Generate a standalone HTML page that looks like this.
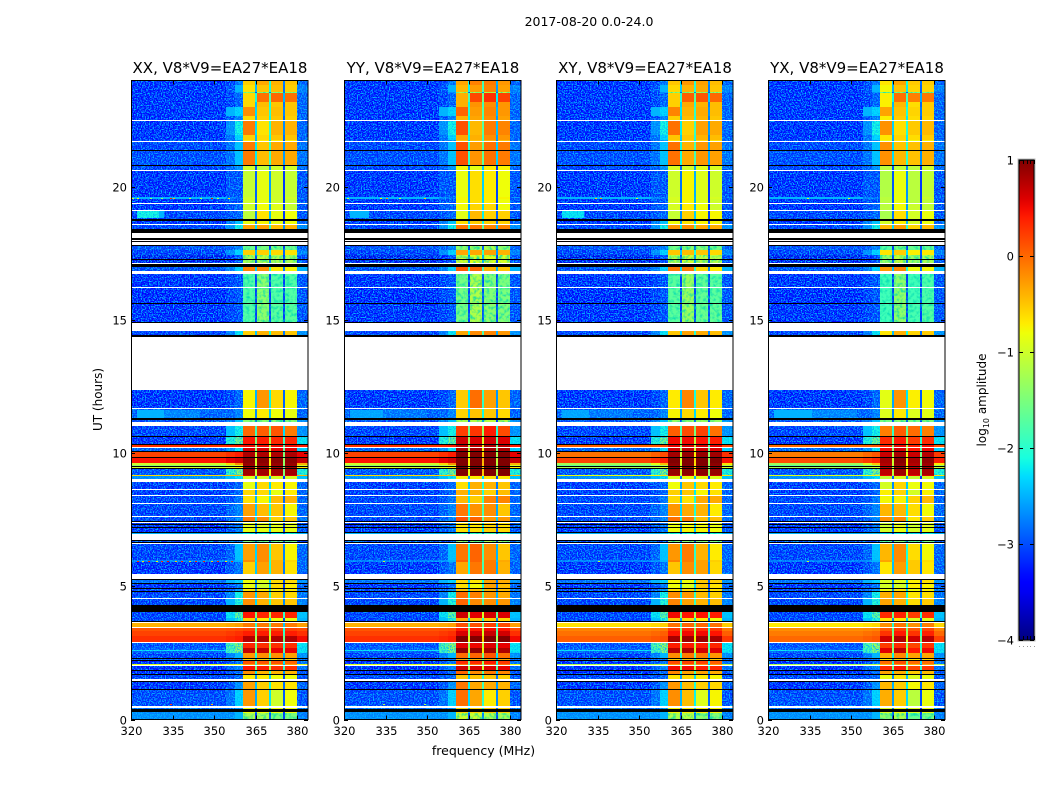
<!DOCTYPE html>
<html lang="en">
<head>
<meta charset="utf-8">
<title>2017-08-20 dynamic spectra</title>
<style>
html,body{margin:0;padding:0;background:#fff;width:1050px;height:800px;overflow:hidden}
svg{display:block}
text{font-family:"DejaVu Sans","Liberation Sans",sans-serif;fill:#000}
</style>
</head>
<body>
<svg id="chart" xmlns="http://www.w3.org/2000/svg" width="1050" height="800" viewBox="0 0 1050 800">
<defs>
<filter id="speckle-0" x="0" y="0" width="1" height="1" color-interpolation-filters="sRGB"><feTurbulence type="fractalNoise" baseFrequency="0.75" numOctaves="2" seed="3"/><feColorMatrix type="matrix" values="0 0 0 0 0  0 0 0 0 0.72  0 0 0 0 1  5 0 0 0 -2.3"/></filter>
<filter id="speckle-1" x="0" y="0" width="1" height="1" color-interpolation-filters="sRGB"><feTurbulence type="fractalNoise" baseFrequency="0.75" numOctaves="2" seed="11"/><feColorMatrix type="matrix" values="0 0 0 0 0  0 0 0 0 0.72  0 0 0 0 1  5 0 0 0 -2.3"/></filter>
<filter id="speckle-2" x="0" y="0" width="1" height="1" color-interpolation-filters="sRGB"><feTurbulence type="fractalNoise" baseFrequency="0.75" numOctaves="2" seed="23"/><feColorMatrix type="matrix" values="0 0 0 0 0  0 0 0 0 0.72  0 0 0 0 1  5 0 0 0 -2.3"/></filter>
<filter id="speckle-3" x="0" y="0" width="1" height="1" color-interpolation-filters="sRGB"><feTurbulence type="fractalNoise" baseFrequency="0.75" numOctaves="2" seed="37"/><feColorMatrix type="matrix" values="0 0 0 0 0  0 0 0 0 0.72  0 0 0 0 1  5 0 0 0 -2.3"/></filter>
<filter id="mottle" x="0" y="0" width="1" height="1" color-interpolation-filters="sRGB"><feTurbulence type="fractalNoise" baseFrequency="0.3" numOctaves="2" seed="5"/><feColorMatrix type="matrix" values="0 0 0 0 0  0 0 0 0 0.85  0 0 0 0 0.7  2.2 0 0 0 -0.95"/></filter>
</defs>
<text x="589" y="26" font-size="12.5" text-anchor="middle">2017-08-20 0.0-24.0</text>
<text x="483.5" y="755" font-size="12.5" text-anchor="middle">frequency (MHz)</text>
<text transform="translate(102,399.5) rotate(-90)" font-size="12" text-anchor="middle">UT (hours)</text>
<text transform="translate(986,400) rotate(-90)" font-size="12" text-anchor="middle">log<tspan font-size="8" dy="3">10</tspan><tspan dy="-3"> amplitude</tspan></text>
</svg>
<script>
/* log10 amplitude per time band. W = flagged (white), K = zero amplitude (black). */
const W = null, K = -9;
const panelTitles = ['XX, V8*V9=EA27*EA18', 'YY, V8*V9=EA27*EA18', 'XY, V8*V9=EA27*EA18', 'YX, V8*V9=EA27*EA18'];
const xTickValues = [320, 335, 350, 365, 380];
const yTickValues = [0, 5, 10, 15, 20];
const colorTickValues = [1, 0, -1, -2, -3, -4];
/* Frequency edges in MHz: background, shoulder 1, shoulder 2, block, gap, block, gap, block, gap, block, right wing */
const freqEdges = [320, 354.5, 357.5, 360.6, 364.8, 365.5, 369.9, 370.6, 375, 375.6, 380, 384];
/* Amplitude drop of the three gaps relative to the mean of the four blocks */
const gapDepth = [-1.9, -1.6, -2.3];
/* Per-panel amplitude offsets for the four blocks */
const blockOffsets = [[0, 0, 0, 0], [0.22, 0.22, 0.3, 0.25], [0.05, 0.1, 0.1, 0.05], [-0.12, 0.02, -0.12, -0.03]];
/* Per-panel offsets for strong wide-band rows */
const hotRowOffsets = [0, 0, -0.25, -0.3];
/* Offset applied to the quiet noise floor */
const quietFloorOffset = -0.14;
/* [upper UT, background, shoulder1, shoulder2, block1, block2, block3, block4, right wing]; each row runs down to the next */
const timeRows = [
[24.02,-3.2,-3.1,-2.8,-.55,-.35,-.4,-.5,-2.9],
[23.83,-3.2,-3,-2.5,-.65,-.5,-.45,-.55,-2.7],
[23.57,-3.2,-3,-2.6,-1.4,-1.4,-1.4,-1.4,-2.8],
[23.53,-3.2,-3.1,-2.9,-.6,-.05,0,-.05,-2.9],
[23.19,-3.2,-3.1,-2.9,-.6,-.45,-.5,-.5,-2.9],
[23,-3.2,-2.5,-2.3,-.2,-.5,-.45,-.5,-2.9],
[22.67,-3.2,-3,-2.7,-.6,-.55,-.5,-.55,-2.9],
[22.52,W],
[22.48,-3.2,-2.6,-2.1,-.1,-.65,-.4,-.4,-2.9],
[21.95,-3.2,-2.8,-2.3,-.55,-.6,-.5,-.5,-2.9],
[21.78,W],
[21.75,-3.1,-2.8,-2.6,-.7,-.7,-.7,-.7,-2.9],
[21.73,W],
[21.69,-3.1,-2.8,-2.4,-.1,-.5,-.35,-.35,-2.8],
[21.39,K],
[21.35,-3.05,-2.8,-2.4,-.1,-.45,-.35,-.35,-2.8],
[20.83,K],
[20.77,-3.1,-2.9,-2.6,-1,-1.1,-1,-1,-2.9],
[20.64,W],
[20.6,-3.2,-3,-3,-1.05,-.85,-1,-1.05,-3],
[19.61,-2.5,-2.7,-2.8,-1,-.85,-1,-1,-2.9],
[19.55,-3.2,-3,-3,-1,-.85,-1,-1.05,-3],
[19.4,W],
[19.36,-3.2,-3,-2.9,-1,-.8,-.9,-1.05,-3],
[19.14,W],
[19.1,-3.1,-3,-2.9,-1.1,-.65,-.85,-.8,-3],
[18.78,K],
[18.74,-3.2,-2.7,-2.4,-.85,-.75,-.85,-.8,-2.9],
[18.61,W],
[18.57,-3.1,-2.6,-2.1,-.3,-.3,-.45,-.4,-2.6],
[18.42,K],
[18.27,W],
[18.08,K],
[18.01,W],
[17.97,K],
[17.93,W],
[17.82,K],
[17.78,-3,-2.9,-2.7,-1.6,-1.5,-1.5,-1.6,-2.9],
[17.65,K],
[17.62,-3.1,-2.6,-2.3,-.55,-.55,-.6,-.65,-2.7],
[17.46,K],
[17.43,-3.4,-3.2,-3,-1.2,-1.1,-1.2,-1.2,-3],
[17.28,K],
[17.24,-3.4,-3.2,-3,-1.2,-1.1,-1.2,-1.2,-3],
[17.15,W],
[17.11,K],
[17,-3,-2.7,-2.3,-.15,-.2,-.7,-.75,-2.5],
[16.85,W],
[16.75,-3.2,-3.1,-3,-1.75,-1.4,-1.75,-1.75,-3],
[16.24,W],
[16.21,-3.3,-3.1,-3,-1.75,-1.4,-1.75,-1.75,-3],
[15.66,K],
[15.62,W],
[15.59,-3.2,-3.1,-3,-1.75,-1.4,-1.7,-1.7,-3],
[14.93,K],
[14.89,W],
[14.61,-3.1,-2.7,-2.2,-.55,-.4,-.45,-.5,-2.6],
[14.44,K],
[14.38,W],
[12.38,-3.2,-3.1,-2.9,-.75,-.25,-.6,-.75,-2.9],
[11.7,W],
[11.66,-2.9,-2.9,-2.7,-.8,-.7,-.8,-.85,-2.9],
[11.31,K],
[11.24,-3,-2.7,-2.4,-1.4,-1.4,-1.4,-1.4,-2.6],
[11.18,W],
[11.02,-3.1,-2.4,-2.1,0,.05,.1,-.1,-2.6],
[10.65,K],
[10.61,-3.2,-2,-1.5,.45,.4,.35,.35,-2.2],
[10.35,K],
[10.31,.3,.35,.4,.5,.5,.5,.5,.4],
[10.25,W],
[10.21,-2.9,-2.6,-2.2,.6,.6,.55,.55,-2.3],
[10.08,K],
[10.05,.2,.3,.4,.8,.8,.8,.8,.55],
[9.86,K],
[9.82,.45,.55,.65,.95,.95,.95,.95,.7],
[9.62,-1,-.6,-.2,.9,.9,.9,.9,-.4],
[9.56,-1.4,-1.2,-1,.85,.85,.85,.85,-1],
[9.52,K],
[9.48,-1,-.9,-.7,.85,.85,.85,.85,-.7],
[9.45,K],
[9.41,-3,-1.9,-1.4,.85,.85,.85,.85,-2],
[9.19,-.6,-.5,-.4,.65,.65,.65,.65,-.4],
[9.15,-2.6,-2.4,-2.2,-.95,-.95,-.95,-.95,-2.4],
[9.03,W],
[8.93,-3.15,-3.05,-2.9,-.85,-.6,-.7,-.75,-2.9],
[8.67,W],
[8.63,-3.15,-3.05,-2.9,-.6,-.6,-.85,-.7,-2.9],
[8.43,W],
[8.41,-3.1,-3,-2.8,-.65,-.75,-.45,-.4,-2.9],
[8.13,W],
[8.09,-3.1,-2.9,-2.7,-.3,-.45,-.5,-.75,-2.9],
[7.64,W],
[7.61,-3.1,-2.9,-2.7,-.1,-.2,-.55,-.5,-2.8],
[7.47,K],
[7.42,W],
[7.38,-3.2,-3,-2.8,-.9,-.9,-.9,-.9,-3],
[7.33,K],
[7.29,-3.2,-3,-2.8,-.9,-.9,-.9,-.9,-3],
[7.23,K],
[7.19,-3.2,-3,-2.8,-.85,-.85,-.85,-.85,-3],
[7.04,K],
[6.99,-2.5,-2.5,-2.4,-2.2,-2.2,-2.2,-2.2,-2.5],
[6.95,W],
[6.76,K],
[6.7,-3,-3,-3,-1.5,-1.5,-1.5,-1.5,-3],
[6.68,K],
[6.63,W],
[6.58,-3.1,-2.9,-2.4,-.3,-.2,-.5,-.75,-2.9],
[5.99,-2.7,-2.6,-2.5,-.2,-.2,-.4,-.6,-2.8],
[5.93,W],
[5.9,-3.2,-3,-2.8,-.55,-.3,-.4,-.65,-2.9],
[5.46,W],
[5.28,K],
[5.24,-2.8,-2.5,-2.3,-.8,-.9,-.6,-.6,-2.6],
[5.12,K],
[5.09,-3.2,-3,-2.8,-.85,-1,-.6,-.7,-2.9],
[4.95,K],
[4.91,-3.1,-2.9,-2.6,-.7,-.7,-.7,-.7,-2.8],
[4.82,K],
[4.79,-3.1,-2.7,-2.1,-.25,-.35,-.55,-.6,-2.8],
[4.56,W],
[4.53,-3.1,-2.5,-2,-.2,-.4,-.5,-.5,-2.7],
[4.3,K],
[4.05,-3.1,-2.2,-1.6,.45,.35,.35,.35,-2.4],
[3.81,-3.1,-2.4,-2,-.55,-.7,-.8,-.85,-2.5],
[3.7,K],
[3.66,W],
[3.62,-.4,-.35,-.3,-.1,-.1,-.1,-.1,-.3],
[3.47,W],
[3.44,.1,.12,.15,.2,.2,.2,.2,.15],
[3.32,.2,.25,.3,.4,.4,.4,.4,.3],
[3.14,.3,.35,.4,.78,.78,.78,.78,.5],
[2.92,W],
[2.88,-3,-1.7,-1.3,.35,.3,.3,.3,-2.2],
[2.67,-2.9,-1.8,-1.4,.7,.7,.55,.55,-2.2],
[2.61,-2.2,-1.8,-1.4,.7,.7,.55,.55,-2.2],
[2.57,-2.9,-1.8,-1.4,.7,.7,.55,.55,-2.2],
[2.49,-3.1,-2.7,-2.5,-.25,-.2,-.2,-.3,-2.6],
[2.3,K],
[2.26,-3,-2.9,-2.8,-.6,-.6,-.6,-.6,-2.9],
[2.23,K],
[2.21,-3.2,-3,-2.8,.1,.1,.1,0,-2.8],
[2.08,-.9,-.9,-.85,-.3,-.3,-.3,-.3,-.9],
[2.05,W],
[2.01,-3.2,-2.9,-2.7,.45,.4,.3,.3,-2.8],
[1.86,K],
[1.82,-3.3,-3.1,-2.9,-.2,-.4,-.4,-.4,-3],
[1.7,K],
[1.67,-3.1,-3,-2.9,-.7,-.7,-.8,-.8,-3],
[1.52,W],
[1.45,K],
[1.39,-3.2,-3,-2.6,-.3,-.55,-.65,-.65,-2.9],
[1.13,K],
[1.09,-3.05,-2.8,-2.3,-.25,-.55,-1,-.8,-3],
[.49,W],
[.44,-2.8,-2.8,-2.6,-.8,-.8,-.8,-.8,-2.8],
[.39,K],
[.29,-2.6,-2.6,-2.5,-.8,-.8,-.8,-.8,-2.7],
[.26,K],
[.23,-2.6,-2.6,-2.5,-1.25,-1.25,-1.5,-1.5,-2.7],
[.02,W]
];
/* Broad emission patches: [panel, UT top, UT bottom, freq start, freq end, amplitude] */
const emissionPatches = [
[0,19.08,18.82,322,330,-2.1],[0,19.08,18.82,330,332,-2.5],
[1,19.08,18.82,322,329,-2.5],[2,19.08,18.82,322,330,-2.2],
[0,11.62,11.33,322,332,-2.5],[0,11.62,11.33,332,345,-2.8],
[1,11.62,11.33,322,334,-2.6],[1,11.62,11.33,334,350,-2.9],
[2,11.62,11.33,322,332,-2.6],[2,11.62,11.33,332,348,-2.9],
[3,11.62,11.33,322,336,-2.5],[3,11.62,11.33,336,352,-2.8]
];
/* Narrow interference pixels: [panel, UT, freq, amplitude] */
const hotPixels = [
[0,19.59,320.5,-1],[0,19.59,322,-.8],[0,19.59,327,-1.4],[0,19.59,331,-1.4],[0,19.59,334,.4],[0,19.59,335,-.4],[0,19.59,341,-1],[0,19.59,345,-1.2],[0,19.59,349,.5],[0,19.59,351,-1.2],[0,19.59,355,-.6],
[1,19.59,321,-1],[1,19.59,333,-.7],[1,19.59,335,-.2],[1,19.59,340,-1],[1,19.59,349,-.5],
[2,19.59,334,-.5],[2,19.59,336,-.3],[2,19.59,349,-1],[3,19.59,334,-1],[3,19.59,349,-1],
[0,5.96,322,.3],[0,5.96,324,-.6],[0,5.96,326,.4],[0,5.96,329,-.8],[0,5.96,331,.4],[0,5.96,333,.5],[0,5.96,336,-.5],[0,5.96,338,.4],[0,5.96,341,-.6],[0,5.96,343,.3],[0,5.96,346,.4],[0,5.96,349,-.5],[0,5.96,351,.4],[0,5.96,354,-.7],[0,5.96,356,.3],
[1,5.96,334,-1],[2,5.96,335,-1],[3,5.96,334,-1],
[0,.58,334,.2],[0,.58,349,-.4],[1,.58,334,-1.2],[1,.58,349,-1.2]
];

const svgNS = 'http://www.w3.org/2000/svg';
const svg = document.getElementById('chart');
const PANEL_W = 177, PANEL_TOP = 80.5, PANEL_BOTTOM = 719.5;

function panelLeft(i) { return Math.round(131.4 + 212.3 * i); }
function xScale(i, f) { return Math.round(panelLeft(i) + (f - 320) * 2.767); }
function yScale(ut) { return Math.round(PANEL_BOTTOM - ut * 26.625); }
function lerp(pts, t) {
  for (let k = 1; k < pts.length; k++) {
    if (t <= pts[k][0]) {
      const a = pts[k - 1], b = pts[k];
      return a[1] + (b[1] - a[1]) * (t - a[0]) / (b[0] - a[0]);
    }
  }
  return pts[pts.length - 1][1];
}
function jet(v) {
  const t = Math.max(0, Math.min(1, (v + 4) / 5));
  const r = lerp([[0, 0], [.35, 0], [.66, 1], [.89, 1], [1, .5]], t);
  const g = lerp([[0, 0], [.125, 0], [.375, 1], [.64, 1], [.91, 0], [1, 0]], t);
  const b = lerp([[0, .5], [.11, 1], [.34, 1], [.65, 0], [1, 0]], t);
  return 'rgb(' + Math.round(r * 255) + ',' + Math.round(g * 255) + ',' + Math.round(b * 255) + ')';
}
function shape(tag, parent, attrs) {
  const el = document.createElementNS(svgNS, tag);
  for (const k in attrs) el.setAttribute(k, attrs[k]);
  parent.appendChild(el);
  return el;
}
function cell(parent, x0, x1, y0, y1, fill) {
  const el = shape('rect', parent, { x: x0, y: y0, width: x1 - x0, height: y1 - y0, fill: fill, 'shape-rendering': 'crispEdges' });
  
  
  return el;
}
function label(parent, x, y, str, anchor, size) {
  const el = shape('text', parent, { x: x, y: y, 'text-anchor': anchor, 'font-size': size });
  el.textContent = str;
  
  
  return el;
}
function tick(parent, x1, y1, x2, y2) {
  const el = shape('line', parent, { x1: x1, y1: y1, x2: x2, y2: y2, stroke: '#000', 'stroke-width': 1, 'shape-rendering': 'crispEdges' });
  
  
  return el;
}
function quiet(v) { return v < -2.5 ? v + quietFloorOffset : v; }
function rowColumns(row, p) {
  const blocks = [row[4], row[5], row[6], row[7]].map(function (v, k) { return v + blockOffsets[p][k]; });
  const mean = (blocks[0] + blocks[1] + blocks[2] + blocks[3]) / 4;
  const hot = row[1] > -1.5 ? hotRowOffsets[p] : 0;
  const gap = function (k) { return Math.max(-3.1, mean + gapDepth[k]); };
  return [quiet(row[1]) + hot, quiet(row[2]) + hot, quiet(row[3]) + hot, blocks[0], gap(0), blocks[1], gap(1), blocks[2], gap(2), blocks[3], quiet(row[8]) + hot];
}

panelTitles.forEach(function (title, p) {
  const left = panelLeft(p);
  const panel = shape('g', svg, {});
  
  

  const cells = shape('g', panel, {});
  
  
  const clip = shape('clipPath', panel, { id: 'quiet-rows-' + p });
  const clipBlocks = shape('clipPath', panel, { id: 'faint-rows-' + p });

  timeRows.forEach(function (row, r) {
    if (row.length === 2) return;
    const y0 = yScale(row[0]);
    const y1 = yScale(r + 1 < timeRows.length ? timeRows[r + 1][0] : 0);
    if (y1 <= y0) return;
    rowColumns(row, p).forEach(function (v, c) {
      cell(cells, xScale(p, freqEdges[c]), xScale(p, freqEdges[c + 1]), y0, y1, jet(v));
    });
    if (row[1] < -2) {
      shape('rect', clip, { x: xScale(p, 320), y: y0, width: xScale(p, 360.6) - xScale(p, 320), height: y1 - y0 });
      shape('rect', clip, { x: xScale(p, 380), y: y0, width: xScale(p, 384) - xScale(p, 380), height: y1 - y0 });
    }
    if (row[4] < -1.1) {
      shape('rect', clipBlocks, { x: xScale(p, 360.6), y: y0, width: xScale(p, 380) - xScale(p, 360.6), height: y1 - y0 });
    }
  });

  emissionPatches.filter(function (e) { return e[0] === p; }).forEach(function (e) {
    cell(cells, xScale(p, e[3]), xScale(p, e[4]), yScale(e[1]), yScale(e[2]), jet(e[5]));
  });

  const noiseWrap = shape('g', panel, { 'clip-path': 'url(#quiet-rows-' + p + ')' });
  
  
  shape('rect', noiseWrap, { x: left, y: 80, width: PANEL_W, height: 640, filter: 'url(#speckle-' + p + ')' });

  const mottleWrap = shape('g', panel, { 'clip-path': 'url(#faint-rows-' + p + ')' });
  
  
  shape('rect', mottleWrap, { x: left, y: 80, width: PANEL_W, height: 640, filter: 'url(#mottle)' });

  hotPixels.filter(function (h) { return h[0] === p; }).forEach(function (h) {
    const y0 = yScale(h[1]);
    cell(panel, xScale(p, h[2]), xScale(p, h[2]) + 2, y0, y0 + 1, jet(h[3]));
  });

  timeRows.forEach(function (row, r) {
    if (row.length !== 2) return;
    const y0 = yScale(row[0]);
    const y1 = yScale(r + 1 < timeRows.length ? timeRows[r + 1][0] : 0);
    if (y1 <= y0) return;
    cell(panel, left, left + PANEL_W, y0, y1, row[1] === null ? '#fff' : '#000');
  });

  const frame = shape('rect', panel, { x: left + .5, y: PANEL_TOP, width: PANEL_W - .5, height: PANEL_BOTTOM - PANEL_TOP, fill: 'none', stroke: '#000', 'stroke-width': 1 });
  
  

  xTickValues.forEach(function (f) {
    const x = xScale(p, f) + .5;
    tick(panel, x, PANEL_BOTTOM, x, PANEL_BOTTOM - 4);
    tick(panel, x, PANEL_TOP, x, PANEL_TOP + 4);
    label(panel, x, 735, String(f), 'middle', 11.5);
  });
  yTickValues.forEach(function (ut) {
    const y = yScale(ut) + .5;
    tick(panel, left, y, left + 4, y);
    tick(panel, left + PANEL_W, y, left + PANEL_W - 4, y);
    label(panel, left - 4, y + 4, String(ut), 'end', 11.5);
  });

  const t = shape('text', panel, { x: left + 89, y: 73, 'text-anchor': 'middle', 'font-size': 15 });
  t.textContent = title;
  
  
});

/* Colour bar */
const CB_X = 1019, CB_W = 15, CB_TOP = 160, CB_BOTTOM = 640;
function cbScale(v) { return CB_TOP + (1 - v) / 5 * (CB_BOTTOM - CB_TOP); }
const grad = shape('linearGradient', svg.querySelector('defs'), { id: 'jet-gradient', x1: 0, y1: 0, x2: 0, y2: 1 });
for (let i = 0; i <= 50; i++) {
  shape('stop', grad, { offset: i / 50, 'stop-color': jet(1 - i / 10) });
}
const bar = shape('g', svg, {});


const ramp = shape('rect', bar, { x: CB_X, y: CB_TOP, width: CB_W, height: CB_BOTTOM - CB_TOP, fill: 'url(#jet-gradient)', stroke: '#000', 'stroke-width': 1 });


const halo = shape('rect', bar, { x: CB_X - 1, y: CB_TOP - 1, width: CB_W + 2, height: CB_BOTTOM - CB_TOP + 2, fill: 'none', stroke: '#bbb', 'stroke-width': 1 });


colorTickValues.forEach(function (v) {
  const y = Math.round(cbScale(v)) + .5;
  tick(bar, CB_X, y, CB_X + 4, y);
  tick(bar, CB_X + CB_W, y, CB_X + CB_W - 4, y);
  label(bar, CB_X - 5, y + 4, (v < 0 ? '\u2212' : '') + Math.abs(v), 'end', 11.5);
});
[0, .25, .5, .75, 1].forEach(function (frac) {
  const x = Math.round(CB_X + frac * CB_W) + .5;
  tick(bar, x, CB_TOP, x, CB_TOP + 4);
  tick(bar, x, CB_BOTTOM, x, CB_BOTTOM - 4);
  const dot = shape('rect', bar, { x: x - .5, y: 646, width: 1, height: 1, fill: '#999' });
  
  
});
</script>
</body>
</html>
